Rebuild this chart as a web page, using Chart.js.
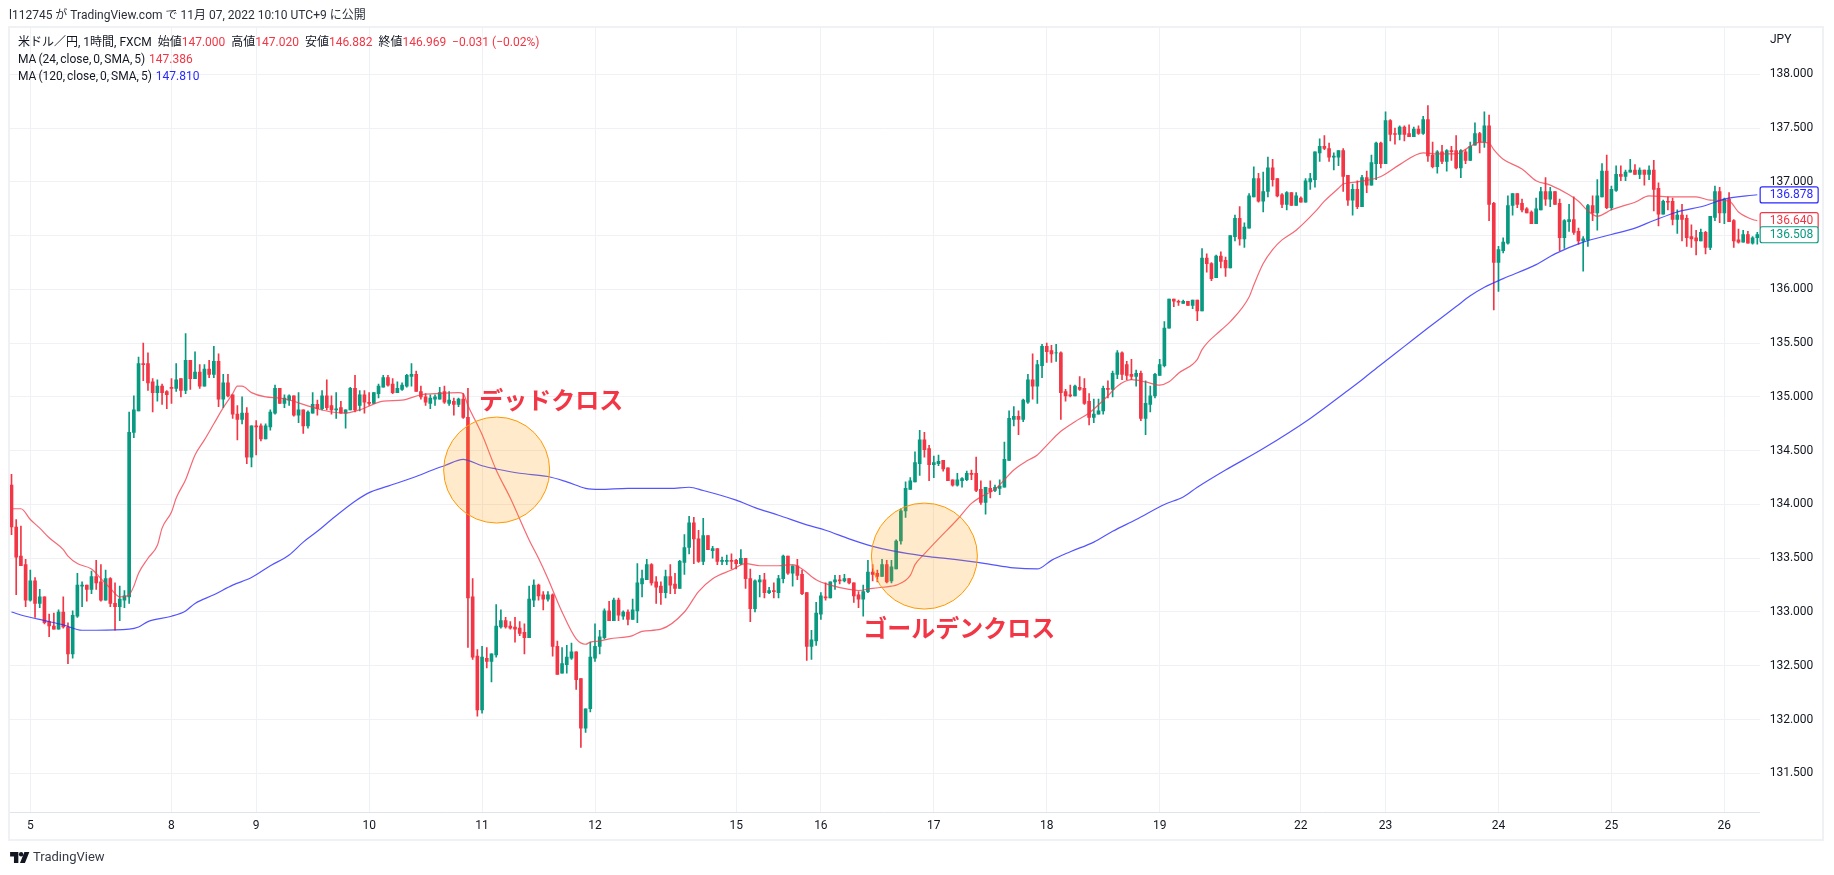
<!DOCTYPE html>
<html lang="ja">
<head>
<meta charset="utf-8">
<title>USDJPY 1h</title>
<script src="https://cdn.jsdelivr.net/npm/chart.js@4/dist/chart.umd.min.js"></script>
<style>
  html, body { margin: 0; padding: 0; background: #fff; width: 1834px; height: 875px; overflow: hidden; }
  body { font-family: Roboto, "Noto Sans CJK JP", sans-serif; color: #131722; position: relative; }
  canvas { position: absolute; left: 0; top: 0; }
  .frame { position: absolute; left: 8px; top: 26px; width: 1812px; height: 811px; border: 2px solid #f0f1f4; pointer-events: none; }
  .txt { position: absolute; white-space: pre; font-size: 12px; line-height: 16px; }
  .ma { word-spacing: -1px; }
  .red { color: #f23645; }
  .blue { color: #2929ff; }
  .logo { position: absolute; left: 10px; top: 852px; }
  .brand { position: absolute; left: 33px; top: 848px; font-size: 13px; line-height: 18px; color: #363a45; }
</style>
</head>
<body>
<canvas id="chart" width="1834" height="875"></canvas>
<div class="frame"></div>
<div class="txt" style="left:9px;top:7px;color:#2a2e39">l112745 が TradingView.com で 11月 07, 2022 10:10 UTC+9 に公開</div>
<div class="txt" style="left:18px;top:34px">米ドル／円, 1時間, FXCM  始値<span class="red">147.000</span>  高値<span class="red">147.020</span>  安値<span class="red">146.882</span>  終値<span class="red">146.969  −0.031 (−0.02%)</span></div>
<div class="txt ma" style="left:18px;top:51px">MA (24, close, 0, SMA, 5)  <span class="red">147.386</span></div>
<div class="txt ma" style="left:18px;top:68px">MA (120, close, 0, SMA, 5)  <span class="blue">147.810</span></div>
<div class="txt" style="left:1770px;top:31px">JPY</div>
<svg class="logo" width="20" height="11" viewBox="0 0 36 20"><path fill="#131722" d="M0 0h15v20H7V8H0zM18 20l8-20h9l-8 20z"/><circle fill="#131722" cx="20" cy="4" r="4"/></svg>
<div class="brand">TradingView</div>
<script>
const opens = [
  134.18,133.79,133.52,133.44,133.11,133.29,133.08,133.14,132.91,132.87,
  132.84,133.00,132.86,132.61,132.96,133.24,133.25,133.21,133.33,133.28,
  133.11,133.31,133.08,133.05,133.11,133.14,134.67,134.87,135.31,135.31,
  135.14,135.04,135.10,135.05,135.09,135.08,135.17,135.06,135.34,135.17,
  135.23,135.10,135.26,135.21,135.33,134.98,135.13,135.02,134.84,134.79,
  134.85,134.44,134.73,134.73,134.61,134.72,134.85,135.08,134.94,134.97,
  135.01,134.83,134.88,134.73,134.85,134.93,134.89,135.01,134.92,134.88,
  134.90,134.85,134.88,135.08,134.92,135.02,134.95,134.94,135.03,135.09,
  135.18,135.12,135.04,135.07,135.10,135.19,135.21,135.05,135.00,134.94,
  134.98,134.98,135.05,134.94,134.96,134.93,134.98,134.81,133.14,132.59,
  132.09,132.57,132.54,132.60,132.86,132.92,132.87,132.86,132.85,132.81,
  132.76,133.11,133.25,133.16,133.12,133.16,132.68,132.43,132.51,132.57,
  132.63,132.38,131.92,132.10,132.57,132.68,132.76,133.01,132.92,133.11,
  132.96,133.00,132.93,133.01,133.26,133.30,133.44,133.28,133.24,133.18,
  133.33,133.26,133.22,133.46,133.60,133.83,133.68,133.47,133.71,133.57,
  133.59,133.47,133.47,133.48,133.48,133.45,133.50,133.31,133.03,133.28,
  133.30,133.18,133.20,133.18,133.31,133.52,133.36,133.43,133.35,133.18,
  132.68,132.73,132.98,133.14,133.13,133.28,133.30,133.29,133.31,133.27,
  133.16,133.12,133.19,133.37,133.36,133.33,133.44,133.29,133.40,133.66,
  133.94,134.14,134.21,134.38,134.60,134.52,134.37,134.38,134.41,134.34,
  134.23,134.18,134.22,134.23,134.29,134.29,134.14,134.02,134.15,134.13,
  134.15,134.16,134.41,134.79,134.82,134.79,134.95,135.16,135.10,135.29,
  135.47,135.43,135.41,135.41,135.05,135.02,135.01,135.09,135.08,134.96,
  134.81,134.84,134.87,135.08,135.07,135.21,135.41,135.30,135.21,135.19,
  135.22,134.80,134.93,135.01,135.20,135.29,135.64,135.91,135.89,135.87,
  135.89,135.85,135.90,135.80,136.29,136.24,136.11,136.31,136.27,136.20,
  136.49,136.66,136.47,136.57,136.86,137.03,136.82,136.91,137.13,137.03,
  136.88,136.79,136.90,136.78,136.85,136.81,137.00,137.02,137.27,137.33,
  137.31,137.23,137.23,137.29,137.06,136.83,136.93,136.77,137.04,136.97,
  137.17,137.36,137.17,137.57,137.45,137.44,137.51,137.45,137.42,137.49,
  137.45,137.58,137.25,137.14,137.28,137.19,137.29,137.29,137.13,137.28,
  137.20,137.34,137.45,137.37,137.52,136.80,136.25,136.36,136.43,136.78,
  136.89,136.80,136.75,136.72,136.61,136.74,136.91,136.84,136.91,136.80,
  136.48,136.63,136.65,136.54,136.45,136.46,136.78,136.71,136.86,137.10,
  136.76,136.92,137.07,137.05,137.09,137.11,137.07,137.11,137.07,137.11,
  136.94,136.70,136.82,136.82,136.65,136.69,136.66,136.49,136.48,136.45,
  136.53,136.39,136.67,136.91,136.71,136.84,136.64,136.46,136.44,136.51,
  136.43,136.48
];
const highs = [
  134.28,133.86,133.80,133.49,133.39,133.32,133.21,133.14,132.98,132.99,
  133.02,133.14,132.90,133.01,133.36,133.28,133.25,133.38,133.48,133.44,
  133.39,133.32,133.27,133.24,133.20,134.86,135.01,135.37,135.50,135.41,
  135.17,135.16,135.12,135.06,135.17,135.31,135.17,135.59,135.34,135.42,
  135.30,135.30,135.34,135.47,135.40,135.21,135.21,135.02,134.92,135.00,
  134.90,134.73,134.78,134.75,134.75,134.88,135.11,135.08,135.02,135.02,
  135.01,135.04,134.88,134.87,135.04,134.97,135.06,135.16,135.01,135.04,
  134.96,134.88,135.09,135.20,135.06,135.06,135.04,135.04,135.12,135.20,
  135.20,135.17,135.14,135.13,135.21,135.31,135.24,135.10,135.03,135.02,
  135.02,135.09,135.10,135.05,134.99,134.99,135.03,135.08,133.31,132.65,
  132.68,132.67,132.61,133.07,133.02,132.95,132.91,132.95,132.91,132.89,
  133.24,133.30,133.26,133.19,133.19,133.17,132.73,132.67,132.69,132.71,
  132.63,132.38,132.10,132.72,132.89,132.83,133.03,133.10,133.13,133.13,
  133.01,133.02,133.12,133.45,133.39,133.49,133.45,133.33,133.28,133.39,
  133.44,133.36,133.48,133.72,133.89,133.88,133.76,133.87,133.71,133.61,
  133.59,133.51,133.53,133.54,133.49,133.58,133.50,133.40,133.30,133.34,
  133.36,133.23,133.27,133.34,133.53,133.52,133.43,133.49,133.39,133.18,
  132.83,133.09,133.18,133.27,133.28,133.34,133.34,133.35,133.31,133.27,
  133.19,133.25,133.48,133.44,133.39,133.49,133.48,133.48,133.67,133.96,
  134.21,134.25,134.49,134.69,134.67,134.55,134.45,134.46,134.41,134.34,
  134.23,134.29,134.25,134.31,134.32,134.44,134.22,134.16,134.22,134.18,
  134.23,134.58,134.87,134.91,134.87,134.98,135.21,135.40,135.34,135.49,
  135.50,135.48,135.49,135.42,135.07,135.11,135.11,135.19,135.17,135.03,
  134.98,134.98,135.10,135.15,135.24,135.43,135.42,135.33,135.35,135.25,
  135.24,135.15,135.10,135.22,135.35,135.70,135.91,135.91,135.90,135.90,
  135.89,135.90,135.90,136.38,136.33,136.25,136.32,136.35,136.30,136.50,
  136.69,136.77,136.62,136.89,137.14,137.08,137.09,137.23,137.21,137.03,
  136.89,136.91,136.90,136.90,136.86,137.03,137.08,137.28,137.40,137.43,
  137.36,137.27,137.29,137.31,137.06,136.98,137.01,137.06,137.10,137.25,
  137.37,137.37,137.65,137.58,137.50,137.52,137.52,137.53,137.51,137.52,
  137.61,137.71,137.37,137.29,137.34,137.30,137.33,137.43,137.30,137.30,
  137.37,137.55,137.46,137.65,137.62,136.81,136.40,136.48,136.87,136.89,
  136.89,136.84,136.76,136.73,136.85,136.95,137.04,136.95,136.91,136.84,
  136.65,136.79,136.86,136.57,136.49,136.79,136.87,137.02,137.17,137.25,
  136.96,137.15,137.15,137.11,137.21,137.16,137.13,137.11,137.15,137.20,
  136.99,136.83,136.86,136.85,136.74,136.79,136.69,136.60,136.55,136.56,
  136.54,136.68,136.96,136.95,136.85,136.90,136.65,136.56,136.55,136.54,
  136.49,136.53
];
const lows = [
  133.72,133.16,133.43,133.05,133.10,132.95,133.04,132.89,132.77,132.84,
  132.84,132.85,132.52,132.57,132.95,133.05,133.10,133.17,133.21,133.10,
  133.11,133.05,132.83,132.92,133.04,133.08,134.62,134.87,135.15,135.06,
  134.86,134.96,134.93,134.89,134.94,135.05,135.00,135.03,135.07,135.17,
  135.08,135.10,135.18,135.18,134.91,134.90,135.00,134.80,134.60,134.75,
  134.38,134.35,134.46,134.59,134.61,134.69,134.84,134.94,134.90,134.92,
  134.82,134.76,134.66,134.71,134.85,134.83,134.88,134.88,134.84,134.80,
  134.85,134.71,134.88,134.86,134.87,134.85,134.92,134.94,134.99,135.09,
  135.10,135.03,135.04,135.06,135.09,135.10,135.05,134.98,134.92,134.89,
  134.92,134.98,134.94,134.92,134.83,134.91,134.80,132.67,132.56,132.03,
  132.06,132.48,132.35,132.58,132.85,132.85,132.84,132.72,132.78,132.61,
  132.76,133.05,133.11,133.02,133.10,132.59,132.42,132.43,132.43,132.56,
  132.28,131.74,131.88,132.07,132.54,132.61,132.75,132.92,132.92,132.92,
  132.93,132.88,132.93,132.90,133.14,133.30,133.25,133.08,133.07,133.13,
  133.17,133.17,133.22,133.35,133.54,133.45,133.46,133.44,133.58,133.50,
  133.44,133.44,133.44,133.40,133.40,133.44,133.22,132.91,133.00,133.14,
  133.13,133.17,133.13,133.13,133.27,133.35,133.24,133.30,133.16,132.55,
  132.56,132.69,132.93,133.11,133.13,133.21,133.26,133.28,133.26,133.09,
  133.04,132.96,133.18,133.29,133.28,133.33,133.27,133.27,133.40,133.63,
  133.88,134.14,134.21,134.27,134.44,134.22,134.25,134.36,134.31,134.22,
  134.17,134.17,134.16,134.22,134.23,134.12,134.00,133.91,134.06,134.12,
  134.09,134.16,134.41,134.73,134.65,134.77,134.94,134.98,134.94,135.18,
  135.32,135.32,135.33,134.79,134.96,135.00,135.01,135.06,134.93,134.74,
  134.76,134.84,134.84,134.99,135.00,135.17,135.16,135.16,135.16,135.10,
  134.78,134.65,134.86,134.99,135.20,135.28,135.64,135.84,135.85,135.87,
  135.85,135.82,135.71,135.80,136.16,136.08,136.11,136.20,136.12,136.20,
  136.45,136.41,136.39,136.57,136.86,136.81,136.72,136.86,136.96,136.86,
  136.76,136.74,136.78,136.78,136.81,136.81,136.93,136.95,137.19,137.30,
  137.19,137.11,137.15,136.91,136.78,136.69,136.75,136.77,136.90,136.97,
  137.02,137.13,137.17,137.38,137.35,137.39,137.38,137.42,137.42,137.44,
  137.44,137.19,137.13,137.08,137.17,137.10,137.20,137.12,137.04,137.17,
  137.20,137.34,137.27,137.32,136.64,135.81,135.98,136.34,136.42,136.69,
  136.76,136.72,136.71,136.61,136.61,136.74,136.78,136.77,136.79,136.36,
  136.38,136.54,136.51,136.42,136.17,136.40,136.64,136.55,136.86,136.75,
  136.74,136.91,137.01,137.01,137.09,137.07,137.03,136.97,137.02,136.73,
  136.59,136.70,136.74,136.60,136.52,136.45,136.40,136.39,136.32,136.45,
  136.33,136.37,136.64,136.62,136.61,136.63,136.39,136.43,136.44,136.43,
  136.42,136.42
];
const closes = [
  133.79,133.51,133.43,133.11,133.29,133.08,133.14,132.90,132.87,132.84,
  133.00,132.86,132.61,132.97,133.25,133.25,133.21,133.33,133.27,133.11,
  133.31,133.08,133.05,133.12,133.15,134.67,134.88,135.31,135.30,135.13,
  135.04,135.10,135.04,135.02,135.08,135.16,135.06,135.34,135.17,135.23,
  135.10,135.26,135.21,135.33,134.98,135.13,135.01,134.84,134.79,134.85,
  134.44,134.73,134.72,134.61,134.73,134.86,135.08,134.94,134.99,135.01,
  134.83,134.88,134.73,134.86,134.93,134.89,135.01,134.90,134.88,134.89,
  134.85,134.88,135.08,134.88,135.02,134.95,134.94,135.04,135.10,135.18,
  135.11,135.04,135.08,135.11,135.20,135.21,135.05,135.00,134.95,134.99,
  135.00,135.04,134.95,134.97,134.93,134.98,134.81,133.13,132.58,132.09,
  132.58,132.54,132.61,132.87,132.92,132.86,132.85,132.84,132.80,132.76,
  133.12,133.25,133.15,133.12,133.16,132.68,132.42,132.52,132.58,132.63,
  132.37,131.92,132.10,132.58,132.68,132.77,133.01,132.92,133.11,132.97,
  133.00,132.93,133.02,133.27,133.31,133.44,133.27,133.23,133.18,133.33,
  133.25,133.22,133.47,133.60,133.83,133.68,133.47,133.71,133.58,133.59,
  133.47,133.48,133.48,133.47,133.45,133.50,133.31,133.03,133.29,133.30,
  133.18,133.20,133.19,133.31,133.52,133.36,133.43,133.34,133.17,132.68,
  132.74,132.99,133.15,133.13,133.28,133.30,133.29,133.31,133.27,133.15,
  133.12,133.19,133.37,133.35,133.33,133.44,133.28,133.42,133.66,133.94,
  134.15,134.22,134.39,134.60,134.51,134.37,134.39,134.40,134.33,134.22,
  134.18,134.23,134.24,134.29,134.28,134.13,134.02,134.16,134.12,134.16,
  134.17,134.42,134.80,134.82,134.79,134.97,135.16,135.10,135.30,135.47,
  135.42,135.40,135.41,135.04,135.01,135.01,135.10,135.07,134.94,134.81,
  134.84,134.87,135.08,135.07,135.22,135.41,135.21,135.20,135.19,135.22,
  134.80,134.94,135.01,135.21,135.30,135.64,135.91,135.89,135.88,135.89,
  135.85,135.90,135.80,136.29,136.24,136.10,136.31,136.26,136.20,136.50,
  136.66,136.47,136.58,136.87,137.03,136.82,136.91,137.13,137.02,136.87,
  136.79,136.90,136.78,136.87,136.81,137.01,137.03,137.28,137.33,137.31,
  137.23,137.24,137.29,137.05,136.83,136.93,136.77,137.04,136.97,137.18,
  137.36,137.17,137.57,137.44,137.44,137.51,137.44,137.42,137.49,137.45,
  137.58,137.24,137.14,137.28,137.19,137.29,137.28,137.13,137.29,137.20,
  137.33,137.45,137.37,137.52,136.79,136.25,136.37,136.44,136.78,136.89,
  136.79,136.74,136.71,136.61,136.75,136.91,136.84,136.91,136.79,136.48,
  136.64,136.65,136.53,136.45,136.47,136.78,136.71,136.87,137.10,136.76,
  136.93,137.07,137.05,137.09,137.11,137.07,137.11,137.07,137.11,136.93,
  136.70,136.82,136.81,136.65,136.69,136.65,136.48,136.47,136.45,136.53,
  136.39,136.68,136.91,136.71,136.84,136.63,136.45,136.44,136.51,136.43,
  136.48,136.51
];

// MA lines: values read at these bar numbers
const ma24Bars = [0,2,4,6,8,11,12,14,17,19,21,23,25,26,27,29,31,32,34,35,37,39,41,43,45,47,48,49,51,54,57,60,62,65,68,71,74,79,83,87,90,95,96,97,100,103,106,110,112,114,117,120,122,123,125,127,132,134,138,143,146,149,153,156,159,163,166,168,171,174,178,180,183,187,188,191,192,194,197,201,204,206,209,211,213,216,218,220,223,226,229,233,235,238,241,244,246,248,252,253,257,259,263,264,266,268,270,273,277,279,282,283,286,291,295,300,303,307,310,312,314,315,317,321,324,327,331,333,335,337,340,342,345,348,353,358,361,365,367,370,371];
const ma24Values = [133.96,133.96,133.86,133.78,133.69,133.58,133.52,133.45,133.40,133.31,133.22,133.14,133.16,133.24,133.36,133.50,133.62,133.78,133.93,134.06,134.23,134.46,134.60,134.75,134.90,135.03,135.10,135.10,135.04,135.00,134.99,134.96,134.93,134.89,134.86,134.85,134.88,134.96,134.97,135.02,135.03,135.04,135.03,134.92,134.65,134.32,134.06,133.67,133.50,133.31,133.00,132.75,132.70,132.72,132.73,132.75,132.78,132.82,132.84,133.00,133.19,133.31,133.39,133.45,133.43,133.43,133.44,133.40,133.30,133.25,133.21,133.20,133.22,133.24,133.25,133.34,133.44,133.54,133.68,133.86,134.01,134.07,134.14,134.23,134.32,134.41,134.46,134.55,134.68,134.77,134.85,135.01,135.10,135.16,135.14,135.11,135.14,135.22,135.35,135.44,135.62,135.70,135.93,136.04,136.24,136.37,136.46,136.55,136.72,136.82,136.94,136.98,137.00,137.05,137.16,137.27,137.26,137.26,137.33,137.37,137.36,137.30,137.21,137.12,137.01,136.97,136.88,136.82,136.73,136.68,136.74,136.77,136.81,136.87,136.86,136.86,136.83,136.82,136.72,136.65,136.64];
const ma120Bars = [0,3,7,11,15,18,25,27,29,34,37,39,43,47,51,55,59,62,65,68,73,76,80,86,90,92,96,97,100,103,108,114,118,122,125,131,140,144,147,154,158,163,169,173,178,183,187,194,198,207,213,218,221,225,230,234,239,245,249,252,258,266,276,284,287,291,296,301,307,310,313,317,324,328,334,340,345,349,354,360,364,371];
const ma120Values = [133.00,132.96,132.92,132.88,132.83,132.83,132.84,132.86,132.91,132.96,133.01,133.08,133.16,133.25,133.32,133.43,133.53,133.65,133.75,133.86,134.03,134.11,134.17,134.26,134.33,134.36,134.42,134.41,134.36,134.33,134.29,134.26,134.21,134.15,134.14,134.15,134.15,134.16,134.13,134.04,133.97,133.90,133.81,133.76,133.68,133.61,133.57,133.52,133.50,133.45,133.41,133.40,133.48,133.56,133.65,133.75,133.86,134.00,134.07,134.16,134.32,134.52,134.80,135.06,135.16,135.30,135.47,135.64,135.84,135.94,136.02,136.10,136.23,136.33,136.44,136.51,136.57,136.64,136.72,136.78,136.84,136.88];

const dayBars = [4,34,52,76,100,124,154,172,196,220,244,274,292,316,340,364];
const dayLabels = ['5','8','9','10','11','12','15','16','17','18','19','22','23','24','25','26'];
const priceTicks = [131.5,132,132.5,133,133.5,134,134.5,135,135.5,136,136.5,137,137.5,138];
const lastValues = [136.878,136.640,136.508];
const lastColors = ['#2929ff','#f23645','#089981'];

const crossBars = [103.1,194.0];
const crossPrices = [134.32,133.52];
const noteTexts = ['デッドクロス','ゴールデンクロス'];
const noteBars = [99.4,181.0];
const notePrices = [134.97,132.85];

const UP = '#089981';
const DOWN = '#f23645';
const categories = opens.map(function (_, i) { return String(i); });
const candleColors = opens.map(function (o, i) { return closes[i] >= o ? UP : DOWN; });

function maPoints(bars, values) {
  return bars.map(function (b, i) { return { x: String(b), y: values[i] }; });
}

// circles, notes and the price boxes on the right
const overlayPlugin = {
  id: 'overlay',
  afterDatasetsDraw(chart) {
    const { ctx, scales: { x, y } } = chart;
    ctx.save();
    crossBars.forEach(function (bar, i) {
      ctx.beginPath();
      ctx.arc(x.getPixelForValue(bar), y.getPixelForValue(crossPrices[i]), 53, 0, Math.PI * 2);
      ctx.fillStyle = 'rgba(255,152,0,0.2)';
      ctx.fill();
      ctx.lineWidth = 1;
      ctx.strokeStyle = '#ff9800';
      ctx.stroke();
    });
    ctx.font = 'bold 24px "Noto Sans CJK JP"';
    ctx.fillStyle = DOWN;
    ctx.textAlign = 'left';
    ctx.textBaseline = 'middle';
    noteTexts.forEach(function (text, i) {
      ctx.fillText(text, x.getPixelForValue(noteBars[i]), y.getPixelForValue(notePrices[i]));
    });
    ctx.restore();
  },
  afterDraw(chart) {
    const { ctx, chartArea, scales: { y } } = chart;
    ctx.save();
    ctx.font = '12px Roboto';
    ctx.textAlign = 'left';
    ctx.textBaseline = 'middle';
    lastValues.forEach(function (v, i) {
      const py = y.getPixelForValue(v);
      ctx.beginPath();
      ctx.roundRect(chartArea.right + 0.5, py - 8, 58, 16, 2);
      ctx.fillStyle = '#ffffff';
      ctx.fill();
      ctx.lineWidth = 1.2;
      ctx.strokeStyle = lastColors[i];
      ctx.stroke();
      ctx.fillStyle = lastColors[i];
      ctx.fillText(v.toFixed(3), chartArea.right + 10, py + 0.5);
    });
    ctx.restore();
  }
};

new Chart(document.getElementById('chart'), {
  data: {
    labels: categories,
    datasets: [
      {
        type: 'line',
        data: maPoints(ma24Bars, ma24Values),
        borderColor: 'rgba(242,54,69,0.75)',
        borderWidth: 1.2,
        pointRadius: 0,
        cubicInterpolationMode: 'monotone',
        order: 1
      },
      {
        type: 'line',
        data: maPoints(ma120Bars, ma120Values),
        borderColor: 'rgba(41,41,255,0.8)',
        borderWidth: 1.2,
        pointRadius: 0,
        cubicInterpolationMode: 'monotone',
        order: 0
      },
      {
        type: 'bar',
        data: opens.map(function (o, i) { return [o, closes[i]]; }),
        backgroundColor: candleColors,
        barThickness: 3,
        grouped: false,
        order: 2
      },
      {
        type: 'bar',
        data: lows.map(function (l, i) { return [l, highs[i]]; }),
        backgroundColor: candleColors,
        barThickness: 1,
        grouped: false,
        order: 3
      }
    ]
  },
  options: {
    responsive: false,
    animation: false,
    events: [],
    layout: { padding: { left: 9.15, top: 27, right: 0, bottom: 0 } },
    plugins: { legend: { display: false }, tooltip: { enabled: false } },
    scales: {
      x: {
        type: 'category',
        offset: true,
        grid: { color: '#f0f1f4', offset: false, drawTicks: false },
        border: { color: '#e0e3eb' },
        afterBuildTicks(scale) {
          scale.ticks = dayBars.map(function (b) { return { value: b }; });
        },
        afterFit(scale) { scale.height = 63; },
        ticks: {
          autoSkip: false,
          maxRotation: 0,
          padding: 7,
          color: '#131722',
          font: { family: 'Roboto', size: 12 },
          callback(value, index) { return dayLabels[index]; }
        }
      },
      y: {
        type: 'linear',
        position: 'right',
        min: 131.14,
        max: 138.44,
        grid: { color: '#f0f1f4', drawTicks: false },
        border: { display: false },
        afterBuildTicks(scale) {
          scale.ticks = priceTicks.map(function (v) { return { value: v }; });
        },
        afterFit(scale) { scale.width = 74.35; },
        ticks: {
          padding: 10,
          color: '#131722',
          font: { family: 'Roboto', size: 12 },
          callback(value) { return Number(value).toFixed(3); }
        }
      }
    }
  },
  plugins: [overlayPlugin]
});
</script>
</body>
</html>
